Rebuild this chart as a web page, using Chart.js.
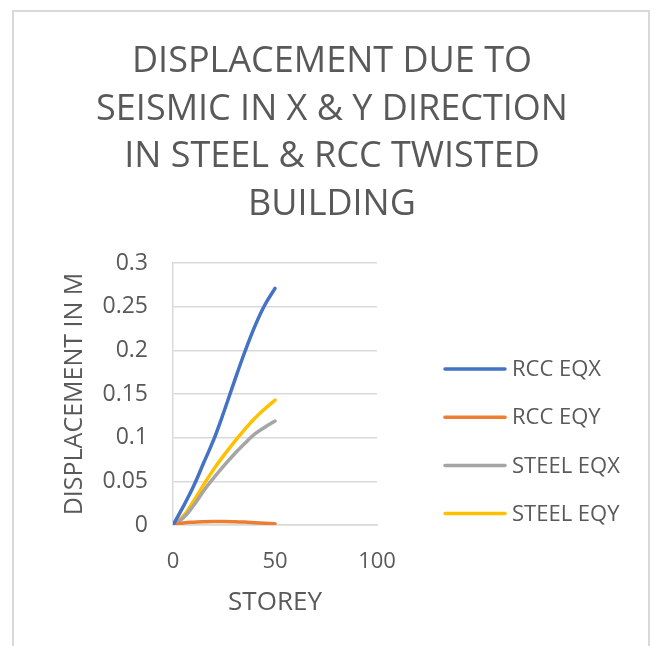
<!DOCTYPE html>
<html lang="en">
<head>
    <meta charset="UTF-8">
    <title>Displacement due to seismic</title>
    <script src="https://cdn.jsdelivr.net/npm/chart.js"></script>
    <style>
        body { margin: 0; background: #fff; }
        .wrap { position: relative; width: 664px; height: 646px; overflow: hidden; }
        .frame { position: absolute; left: 12px; top: 10px; width: 638px; height: 700px; border: 2px solid #d9d9d9; box-sizing: border-box; }
        canvas { position: absolute; left: 0; top: 0; }
    </style>
</head>
<body>
    <div class="wrap">
        <div class="frame"></div>
        <canvas id="dispChart" width="664" height="646"></canvas>
    </div>

    <script>
        // storey numbers and displacement (m) for each case
        const storeys  = [0, 5, 10, 15, 20, 25, 30, 35, 40, 45, 50];
        const rccEqx   = [0, 0.021, 0.044, 0.071, 0.098, 0.130, 0.164, 0.197, 0.227, 0.252, 0.271];
        const rccEqy   = [0, 0.0022, 0.0032, 0.0037, 0.0039, 0.0039, 0.0037, 0.0033, 0.0027, 0.0021, 0.0015];
        const steelEqx = [0, 0.008, 0.022, 0.039, 0.054, 0.068, 0.081, 0.093, 0.104, 0.112, 0.119];
        const steelEqy = [0, 0.010, 0.027, 0.046, 0.064, 0.080, 0.095, 0.109, 0.122, 0.133, 0.143];

        const seriesNames  = ['RCC EQX', 'RCC EQY', 'STEEL EQX', 'STEEL EQY'];
        const seriesValues = [rccEqx, rccEqy, steelEqx, steelEqy];
        const seriesColors = ['#4472C4', '#ED7D31', '#A5A5A5', '#FFC000'];

        const titleLines = ['DISPLACEMENT DUE TO', 'SEISMIC IN X & Y DIRECTION', 'IN STEEL & RCC TWISTED', 'BUILDING'];

        const textGrey = '#595959';
        const gridGrey = '#d9d9d9';
        Chart.defaults.font.family = "'Open Sans', sans-serif";
        Chart.defaults.color = textGrey;

        // legend drawn on the right, one line sample + label per series
        const sideLegend = {
            id: 'sideLegend',
            afterDraw(chart, args, opts) {
                const ctx = chart.ctx;
                ctx.save();
                ctx.font = opts.fontSize + "px 'Open Sans', sans-serif";
                ctx.textBaseline = 'middle';
                chart.data.datasets.forEach((ds, i) => {
                    const y = opts.top + i * opts.gap;
                    ctx.strokeStyle = ds.borderColor;
                    ctx.lineWidth = 3.5;
                    ctx.lineCap = 'round';
                    ctx.beginPath();
                    ctx.moveTo(opts.left, y);
                    ctx.lineTo(opts.left + opts.lineLen, y);
                    ctx.stroke();
                    ctx.fillStyle = textGrey;
                    ctx.fillText(ds.label, opts.left + opts.lineLen + 7, y + 1);
                });
                ctx.restore();
            }
        };

        const ctx = document.getElementById('dispChart').getContext('2d');
        const dispChart = new Chart(ctx, {
            type: 'line',
            data: {
                datasets: seriesNames.map((name, i) => ({
                    label: name,
                    data: storeys.map((s, j) => ({ x: s, y: seriesValues[i][j] })),
                    borderColor: seriesColors[i],
                    backgroundColor: seriesColors[i],
                    borderWidth: 3.5,
                    borderCapStyle: 'round',
                    pointRadius: 0,
                    tension: 0.4,
                    fill: false
                }))
            },
            plugins: [sideLegend],
            options: {
                responsive: false,
                animation: false,
                layout: { padding: { left: 55, right: 55, top: 0, bottom: 0 } },
                plugins: {
                    legend: { display: false },
                    tooltip: { enabled: false },
                    title: {
                        display: true,
                        text: titleLines,
                        color: textGrey,
                        font: { size: 36, weight: 'normal', lineHeight: 1.32 },
                        padding: { top: 38, bottom: 35 }
                    },
                    sideLegend: { left: 445, top: 369, gap: 48.2, lineLen: 60, fontSize: 22 }
                },
                scales: {
                    x: {
                        type: 'linear',
                        min: 0,
                        max: 100,
                        ticks: { stepSize: 50, padding: 24, font: { size: 22 }, color: textGrey, maxRotation: 0 },
                        grid: { display: false, drawTicks: false },
                        border: { display: true, color: gridGrey, width: 1.5 },
                        title: { display: true, text: 'STOREY', font: { size: 26 }, color: textGrey, padding: { top: 28, bottom: 28 } },
                        afterFit(scale) {
                            scale.height = 121;
                            scale.paddingRight = 287;
                        }
                    },
                    y: {
                        min: 0,
                        max: 0.3,
                        ticks: {
                            stepSize: 0.05,
                            padding: 25,
                            font: { size: 23 },
                            color: textGrey,
                            callback: v => String(+v.toFixed(2))
                        },
                        grid: { color: gridGrey, lineWidth: 1.5, drawTicks: false },
                        border: { display: true, color: gridGrey, width: 1.5 },
                        title: { display: true, text: 'DISPLACEMENT IN M', font: { size: 25 }, color: textGrey, padding: { top: 5, bottom: 5 } },
                        afterFit(scale) {
                            scale.width = 118;
                        }
                    }
                }
            }
        });
    </script>
</body>
</html>
